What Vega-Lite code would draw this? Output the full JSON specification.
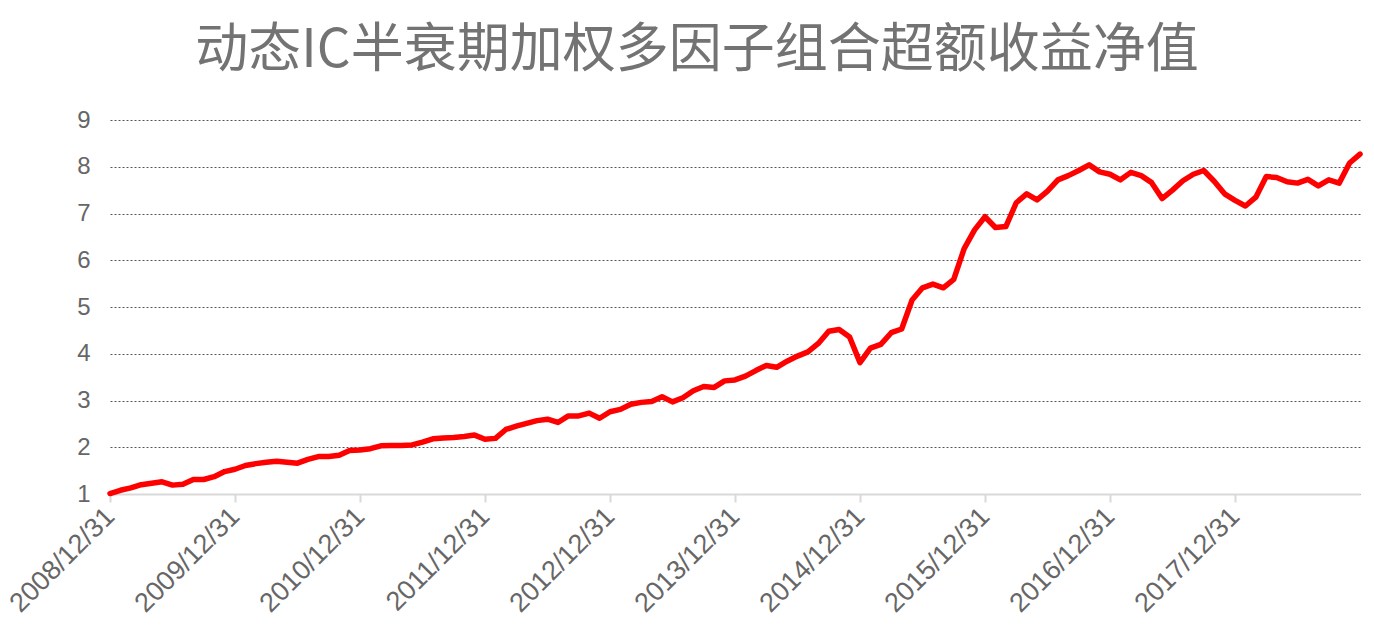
{
  "$schema": "https://vega.github.io/schema/vega-lite/v6.json",
  "width": 1250,
  "height": 374,
  "autosize": {"type": "none"},
  "padding": {"left": 110, "top": 120, "right": 14, "bottom": 145},
  "background": "white",
  "title": {
    "text": "动态IC半衰期加权多因子组合超额收益净值",
    "font": "Noto Sans CJK SC",
    "fontSize": 53,
    "fontWeight": "normal",
    "color": "#737373",
    "anchor": "middle",
    "dx": -38,
    "offset": 30
  },
  "data": {
    "values": [
      {"date": "2008/12/31", "v": 1.01},
      {"date": "2009/01/31", "v": 1.08},
      {"date": "2009/02/28", "v": 1.13},
      {"date": "2009/03/31", "v": 1.20},
      {"date": "2009/04/30", "v": 1.23},
      {"date": "2009/05/31", "v": 1.26},
      {"date": "2009/06/30", "v": 1.19},
      {"date": "2009/07/31", "v": 1.21},
      {"date": "2009/08/31", "v": 1.31},
      {"date": "2009/09/30", "v": 1.31},
      {"date": "2009/10/31", "v": 1.37},
      {"date": "2009/11/30", "v": 1.48},
      {"date": "2009/12/31", "v": 1.53},
      {"date": "2010/01/31", "v": 1.61},
      {"date": "2010/02/28", "v": 1.65},
      {"date": "2010/03/31", "v": 1.68},
      {"date": "2010/04/30", "v": 1.70},
      {"date": "2010/05/31", "v": 1.68},
      {"date": "2010/06/30", "v": 1.66},
      {"date": "2010/07/31", "v": 1.74},
      {"date": "2010/08/31", "v": 1.80},
      {"date": "2010/09/30", "v": 1.80},
      {"date": "2010/10/31", "v": 1.83},
      {"date": "2010/11/30", "v": 1.93},
      {"date": "2010/12/31", "v": 1.94},
      {"date": "2011/01/31", "v": 1.97},
      {"date": "2011/02/28", "v": 2.03},
      {"date": "2011/03/31", "v": 2.04},
      {"date": "2011/04/30", "v": 2.04},
      {"date": "2011/05/31", "v": 2.05},
      {"date": "2011/06/30", "v": 2.11},
      {"date": "2011/07/31", "v": 2.18},
      {"date": "2011/08/31", "v": 2.20},
      {"date": "2011/09/30", "v": 2.21},
      {"date": "2011/10/31", "v": 2.23},
      {"date": "2011/11/30", "v": 2.26},
      {"date": "2011/12/31", "v": 2.17},
      {"date": "2012/01/31", "v": 2.19},
      {"date": "2012/02/29", "v": 2.38},
      {"date": "2012/03/31", "v": 2.45},
      {"date": "2012/04/30", "v": 2.51},
      {"date": "2012/05/31", "v": 2.57},
      {"date": "2012/06/30", "v": 2.60},
      {"date": "2012/07/31", "v": 2.53},
      {"date": "2012/08/31", "v": 2.67},
      {"date": "2012/09/30", "v": 2.67},
      {"date": "2012/10/31", "v": 2.73},
      {"date": "2012/11/30", "v": 2.62},
      {"date": "2012/12/31", "v": 2.76},
      {"date": "2013/01/31", "v": 2.81},
      {"date": "2013/02/28", "v": 2.92},
      {"date": "2013/03/31", "v": 2.96},
      {"date": "2013/04/30", "v": 2.98},
      {"date": "2013/05/31", "v": 3.08},
      {"date": "2013/06/30", "v": 2.97},
      {"date": "2013/07/31", "v": 3.06},
      {"date": "2013/08/31", "v": 3.21},
      {"date": "2013/09/30", "v": 3.30},
      {"date": "2013/10/31", "v": 3.28},
      {"date": "2013/11/30", "v": 3.42},
      {"date": "2013/12/31", "v": 3.44},
      {"date": "2014/01/31", "v": 3.52},
      {"date": "2014/02/28", "v": 3.64},
      {"date": "2014/03/31", "v": 3.75},
      {"date": "2014/04/30", "v": 3.71},
      {"date": "2014/05/31", "v": 3.84},
      {"date": "2014/06/30", "v": 3.95},
      {"date": "2014/07/31", "v": 4.04},
      {"date": "2014/08/31", "v": 4.22},
      {"date": "2014/09/30", "v": 4.48},
      {"date": "2014/10/31", "v": 4.52},
      {"date": "2014/11/30", "v": 4.36},
      {"date": "2014/12/31", "v": 3.81},
      {"date": "2015/01/31", "v": 4.12},
      {"date": "2015/02/28", "v": 4.20},
      {"date": "2015/03/31", "v": 4.45},
      {"date": "2015/04/30", "v": 4.53},
      {"date": "2015/05/31", "v": 5.15},
      {"date": "2015/06/30", "v": 5.41},
      {"date": "2015/07/31", "v": 5.49},
      {"date": "2015/08/31", "v": 5.41},
      {"date": "2015/09/30", "v": 5.59},
      {"date": "2015/10/31", "v": 6.25},
      {"date": "2015/11/30", "v": 6.65},
      {"date": "2015/12/31", "v": 6.93},
      {"date": "2016/01/31", "v": 6.70},
      {"date": "2016/02/29", "v": 6.72},
      {"date": "2016/03/31", "v": 7.23},
      {"date": "2016/04/30", "v": 7.42},
      {"date": "2016/05/31", "v": 7.29},
      {"date": "2016/06/30", "v": 7.48},
      {"date": "2016/07/31", "v": 7.72},
      {"date": "2016/08/31", "v": 7.81},
      {"date": "2016/09/30", "v": 7.92},
      {"date": "2016/10/31", "v": 8.04},
      {"date": "2016/11/30", "v": 7.89},
      {"date": "2016/12/31", "v": 7.84},
      {"date": "2017/01/31", "v": 7.72},
      {"date": "2017/02/28", "v": 7.88},
      {"date": "2017/03/31", "v": 7.81},
      {"date": "2017/04/30", "v": 7.66},
      {"date": "2017/05/31", "v": 7.32},
      {"date": "2017/06/30", "v": 7.50},
      {"date": "2017/07/31", "v": 7.70},
      {"date": "2017/08/31", "v": 7.84},
      {"date": "2017/09/30", "v": 7.92},
      {"date": "2017/10/31", "v": 7.69},
      {"date": "2017/11/30", "v": 7.42},
      {"date": "2017/12/31", "v": 7.28},
      {"date": "2018/01/31", "v": 7.16},
      {"date": "2018/02/28", "v": 7.35},
      {"date": "2018/03/31", "v": 7.79},
      {"date": "2018/04/30", "v": 7.77},
      {"date": "2018/05/31", "v": 7.68},
      {"date": "2018/06/30", "v": 7.65},
      {"date": "2018/07/31", "v": 7.73},
      {"date": "2018/08/31", "v": 7.59},
      {"date": "2018/09/30", "v": 7.72},
      {"date": "2018/10/31", "v": 7.65},
      {"date": "2018/11/30", "v": 8.08},
      {"date": "2018/12/31", "v": 8.27}
    ]
  },
  "mark": {"type": "line", "color": "#ff0000", "strokeWidth": 5.5, "strokeJoin": "round", "strokeCap": "round"},
  "encoding": {
    "x": {
      "field": "date",
      "type": "ordinal",
      "sort": null,
      "scale": {"type": "point", "padding": 0},
      "axis": {
        "title": null,
        "values": ["2008/12/31", "2009/12/31", "2010/12/31", "2011/12/31", "2012/12/31", "2013/12/31", "2014/12/31", "2015/12/31", "2016/12/31", "2017/12/31"],
        "labelAngle": -45,
        "labelAlign": "right",
        "labelBaseline": "middle",
        "labelFont": "Liberation Sans",
        "labelFontSize": 27,
        "labelColor": "#666666",
        "labelPadding": 10,
        "domainColor": "#d9d9d9",
        "domainWidth": 2,
        "tickColor": "#d9d9d9",
        "tickWidth": 2,
        "tickSize": 8,
        "grid": false
      }
    },
    "y": {
      "field": "v",
      "type": "quantitative",
      "scale": {"domain": [1, 9], "nice": false, "zero": false},
      "axis": {
        "title": null,
        "values": [1, 2, 3, 4, 5, 6, 7, 8, 9],
        "labelFont": "Liberation Sans",
        "labelFontSize": 24,
        "labelColor": "#666666",
        "labelPadding": 20,
        "domain": false,
        "ticks": false,
        "grid": true,
        "gridColor": "#555555",
        "gridWidth": 1,
        "gridDash": [2, 2]
      }
    }
  },
  "config": {"view": {"stroke": null}}
}
